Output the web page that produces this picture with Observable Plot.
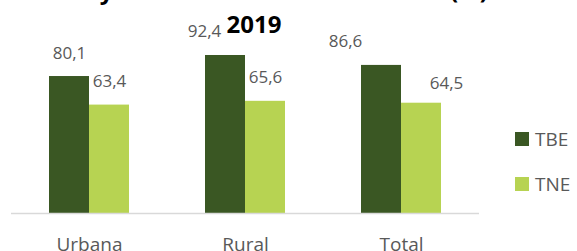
<!DOCTYPE html>
<html><head><meta charset="utf-8">
<script src="https://cdn.jsdelivr.net/npm/d3@7"></script>
<script src="https://cdn.jsdelivr.net/npm/@observablehq/plot@0.6"></script>
<style>
body{margin:0;background:#fff;font-family:"Open Sans",sans-serif;}
#wrap{position:relative;width:577px;height:251px;overflow:hidden;}
#chart{position:absolute;left:0;top:0;}
.t{position:absolute;font-weight:bold;font-size:24px;line-height:34px;color:#000;white-space:nowrap;}
#t1{right:89px;top:-27px;}
#t2{left:0;width:508px;text-align:center;top:7px;}
.lg{position:absolute;left:515px;height:14px;display:flex;align-items:center;font-size:19px;color:#595959;}
.lg span.sw{display:inline-block;width:14px;height:14px;margin-right:6px;}
</style></head><body>
<div id="wrap">
<div id="chart"></div>
<div class="t" id="t1">Tasa bruta y tasa neta de escolarización (%)</div>
<div class="t" id="t2">2019</div>
<div id="legend"></div>
</div>
<script>
const categories = ["Urbana", "Rural", "Total"];
const series = ["TBE", "TNE"];
const tbe = [80.1, 92.4, 86.6];
const tne = [63.4, 65.6, 64.5];
const colors = ["#3a5723", "#b7d352"];
// manual nudges of data labels as placed in the original chart [dx, dy]
const labelNudgeTBE = [[0, 0], [-21, 0], [-36, 0]];
const labelNudgeTNE = [[0, 0], [0, 0], [25, 4]];

const data = categories.flatMap((c, i) => [
  {cat: c, s: series[0], v: tbe[i], n: labelNudgeTBE[i]},
  {cat: c, s: series[1], v: tne[i], n: labelNudgeTNE[i]}
]);
const fmt = v => d3.format(".1f")(v).replace(".", ",");

const chart = Plot.plot({
  width: 577, height: 251,
  marginTop: 42, marginBottom: 38, marginLeft: 10, marginRight: 97,
  facet: {data, x: "cat"},
  fx: {domain: categories, padding: 0, label: null, axis: "bottom", tickSize: 0, tickPadding: 24},
  x: {domain: series, paddingInner: 0, paddingOuter: 0.915, axis: null},
  y: {domain: [0, 100], axis: null},
  color: {domain: series, range: colors},
  style: {fontFamily: "Open Sans", fontSize: "19px", color: "#595959", background: "transparent"},
  marks: [
    Plot.barY(data, {x: "s", y: "v", fill: "s"}),
    Plot.ruleY([0], {stroke: "#d9d9d9", strokeWidth: 1.5}),
    ...data.map(d => Plot.text(data, {x: "s", y: "v", text: r => (r === d ? fmt(r.v) : null), lineAnchor: "bottom",
      dx: d.n[0], dy: -18 + d.n[1], fontSize: 17, fill: "#595959"}))
  ]
});
document.getElementById("chart").appendChild(chart);

const legend = document.getElementById("legend");
const tops = [132, 177];
series.forEach((s, i) => {
  const el = document.createElement("div");
  el.className = "lg";
  el.style.top = tops[i] + "px";
  el.innerHTML = `<span class="sw" style="background:${colors[i]}"></span>${s}`;
  legend.appendChild(el);
});
</script>
</body></html>
